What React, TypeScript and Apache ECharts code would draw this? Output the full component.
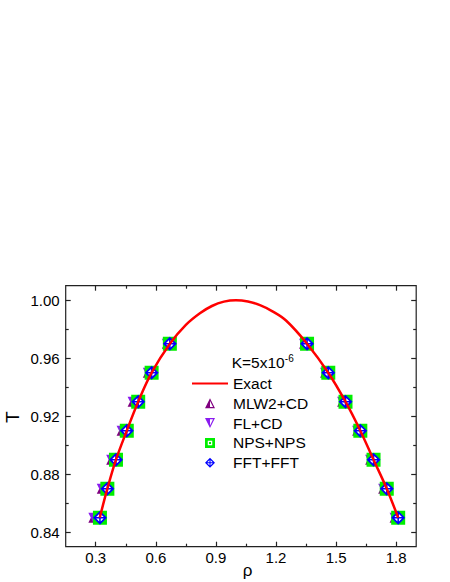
import React, { useEffect, useRef } from "react";
import * as echarts from "echarts";

// ---- data ----
const EXACT_RHO = [0.32, 0.358, 0.401, 0.455, 0.512, 0.579, 0.67, 0.75, 0.82, 0.88, 0.94, 1.0, 1.06, 1.12, 1.18, 1.25, 1.355, 1.461, 1.547, 1.621, 1.687, 1.753, 1.81];
const EXACT_T = [0.85, 0.87, 0.89, 0.91, 0.93, 0.95, 0.97, 0.983, 0.991, 0.996, 0.999, 1.0, 0.9991, 0.9966, 0.9925, 0.986, 0.97, 0.95, 0.93, 0.91, 0.89, 0.87, 0.85];

const MLW2_RHO = [0.288, 0.33, 0.377, 0.429, 0.484, 0.56, 0.655, 1.34, 1.445, 1.53, 1.605, 1.67, 1.735, 1.792];
const MLW2_T = [0.85, 0.87, 0.89, 0.91, 0.93, 0.95, 0.97, 0.97, 0.95, 0.93, 0.91, 0.89, 0.87, 0.85];

const FL_RHO = [0.288, 0.33, 0.377, 0.429, 0.484, 0.56, 0.655, 1.34, 1.445, 1.53, 1.605, 1.67, 1.735, 1.792];
const FL_T = [0.85, 0.87, 0.89, 0.91, 0.93, 0.95, 0.97, 0.97, 0.95, 0.93, 0.91, 0.89, 0.87, 0.85];

const NPS_RHO = [0.321, 0.358, 0.401, 0.455, 0.512, 0.579, 0.67, 1.355, 1.461, 1.547, 1.621, 1.687, 1.753, 1.81];
const NPS_T = [0.85, 0.87, 0.89, 0.91, 0.93, 0.95, 0.97, 0.97, 0.95, 0.93, 0.91, 0.89, 0.87, 0.85];

const FFT_RHO = [0.321, 0.358, 0.401, 0.455, 0.512, 0.579, 0.67, 1.355, 1.461, 1.547, 1.621, 1.687, 1.753, 1.81];
const FFT_T = [0.85, 0.87, 0.89, 0.91, 0.93, 0.95, 0.97, 0.97, 0.95, 0.93, 0.91, 0.89, 0.87, 0.85];

const X_MAJOR = [0.3, 0.6, 0.9, 1.2, 1.5, 1.8];
const X_MINOR = [0.45, 0.75, 1.05, 1.35, 1.65];
const Y_MAJOR = [0.84, 0.88, 0.92, 0.96, 1.0];
const Y_MINOR = [0.86, 0.9, 0.94, 0.98];

const SERIES_NAMES = ["Exact", "MLW2+CD", "FL+CD", "NPS+NPS", "FFT+FFT"];

// ---- symbols ----
const SYM_UP = "path://M10 0L20 20L0 20ZM10 5.37L10 17.6L16.1 17.6Z";
const SYM_DOWN = "path://M0 0L20 0L10 20ZM10 2.4L10 14.63L16.1 2.4Z";
const SYM_SQUARE = "path://M0 0L20 0L20 20L0 20ZM5.5 5.5L5.5 14.5L14.5 14.5L14.5 5.5ZM8 8L12 8L12 12L8 12Z";
const SYM_DIAMOND = "path://M10 0L20 10L10 20L0 10ZM10 3.54L3.54 10L10 16.46L16.46 10ZM8.9 1L11.1 1L11.1 19L8.9 19ZM1 8.9L19 8.9L19 11.1L1 11.1Z";

const FONT = "'Liberation Sans', Arial, sans-serif";

const zip = (xs: number[], ys: number[]) => xs.map((x, i) => [x, ys[i]]);

const AX_COLOR = "#222";

function xAxisDef(position: "top" | "bottom", values: number[], len: number, labels: boolean) {
  return {
    type: "value",
    gridIndex: 0,
    position,
    min: 0.15,
    max: 1.9,
    axisLine: { show: false, onZero: false },
    splitLine: { show: false },
    axisTick: { show: true, inside: true, length: len, customValues: values, lineStyle: { color: AX_COLOR, width: 1.2 } },
    axisLabel: {
      show: labels,
      customValues: values,
      margin: 3,
      color: "#000",
      fontSize: 15,
      fontFamily: FONT,
      formatter: (v: number) => v.toFixed(1),
    },
  };
}

function yAxisDef(position: "left" | "right", values: number[], len: number, labels: boolean) {
  return {
    type: "value",
    gridIndex: 0,
    position,
    min: 0.83,
    max: 1.01,
    axisLine: { show: false, onZero: false },
    splitLine: { show: false },
    axisTick: { show: true, inside: true, length: len, customValues: values, lineStyle: { color: AX_COLOR, width: 1.2 } },
    axisLabel: {
      show: labels,
      customValues: values,
      margin: 6,
      color: "#000",
      fontSize: 15,
      fontFamily: FONT,
      formatter: (v: number) => v.toFixed(2),
    },
  };
}

export default function App() {
  const ref = useRef<HTMLDivElement>(null);

  useEffect(() => {
    if (!ref.current) return;
    const chart = echarts.init(ref.current, null, { renderer: "svg" });
    const option: any = {
      animation: false,
      backgroundColor: "#fff",
      grid: {
        left: 65.7,
        top: 285.7,
        width: 350.5,
        height: 261,
        show: true,
        borderColor: AX_COLOR,
        borderWidth: 1.2,
        backgroundColor: "transparent",
      },
      xAxis: [
        xAxisDef("bottom", X_MAJOR, 5, true),
        xAxisDef("bottom", X_MINOR, 3, false),
        xAxisDef("top", X_MAJOR, 5, false),
        xAxisDef("top", X_MINOR, 3, false),
      ],
      yAxis: [
        yAxisDef("left", Y_MAJOR, 5, true),
        yAxisDef("left", Y_MINOR, 3, false),
        yAxisDef("right", Y_MAJOR, 5, false),
        yAxisDef("right", Y_MINOR, 3, false),
      ],
      legend: {
        data: [
          {
            name: SERIES_NAMES[0],
            itemStyle: { color: "rgba(0,0,0,0)", borderColor: "rgba(0,0,0,0)", borderWidth: 0 },
          },
          ...SERIES_NAMES.slice(1).map((n) => ({ name: n })),
        ],
        orient: "vertical",
        left: 191,
        top: 375.5,
        padding: 0,
        itemWidth: 36,
        itemHeight: 10,
        itemGap: 3.8,
        symbolKeepAspect: true,
        selectedMode: false,
        textStyle: { color: "#000", fontSize: 15.5, fontFamily: FONT },
      },
      graphic: [
        {
          type: "text",
          left: 231.7,
          top: 354.5,
          style: { text: "K=5x10", fontSize: 15.5, fontFamily: FONT, fill: "#000" },
        },
        {
          type: "text",
          x: 284.8,
          y: 358.5,
          style: { text: "-6", fontSize: 10, fontFamily: FONT, fill: "#000", verticalAlign: "middle", align: "left" },
        },
        {
          type: "text",
          x: 12.5,
          y: 417.3,
          rotation: Math.PI / 2,
          style: { text: "T", fontSize: 19, fontFamily: FONT, fill: "#000", align: "center", verticalAlign: "middle" },
        },
        {
          type: "text",
          x: 247.5,
          y: 570,
          style: { text: "ρ", fontSize: 17, fontFamily: FONT, fill: "#000", align: "center", verticalAlign: "middle" },
        },
      ],
      series: [
        {
          name: "Exact",
          type: "line",
          data: zip(EXACT_RHO, EXACT_T),
          smooth: 0.35,
          symbol: "none",
          lineStyle: { color: "#ff0000", width: 2.5 },
          itemStyle: { color: "#ff0000" },
        },
        {
          name: "MLW2+CD",
          type: "scatter",
          data: zip(MLW2_RHO, MLW2_T),
          symbol: SYM_UP,
          symbolSize: 10,
          symbolKeepAspect: true,
          itemStyle: { color: "#800080", opacity: 1 },
        },
        {
          name: "FL+CD",
          type: "scatter",
          data: zip(FL_RHO, FL_T),
          symbol: SYM_DOWN,
          symbolSize: 10,
          symbolKeepAspect: true,
          itemStyle: { color: "#8a1cf0", opacity: 1 },
        },
        {
          name: "NPS+NPS",
          type: "scatter",
          data: zip(NPS_RHO, NPS_T),
          symbol: SYM_SQUARE,
          symbolSize: 14,
          symbolKeepAspect: true,
          itemStyle: { color: "#00ee00", opacity: 1 },
        },
        {
          name: "FFT-bg",
          type: "scatter",
          data: zip(FFT_RHO, FFT_T),
          symbol: "diamond",
          symbolSize: 12,
          itemStyle: { color: "#ffffff", opacity: 1 },
          silent: true,
        },
        {
          name: "FFT+FFT",
          type: "scatter",
          data: zip(FFT_RHO, FFT_T),
          symbol: SYM_DIAMOND,
          symbolSize: 14,
          symbolKeepAspect: true,
          itemStyle: { color: "#0000ff", opacity: 1 },
        },
      ],
    };
    chart.setOption(option);
    return () => chart.dispose();
  }, []);

  return (
    <div
      ref={ref}
      style={{ position: "fixed", left: 0, top: 0, width: 450, height: 582, background: "#fff" }}
    />
  );
}
